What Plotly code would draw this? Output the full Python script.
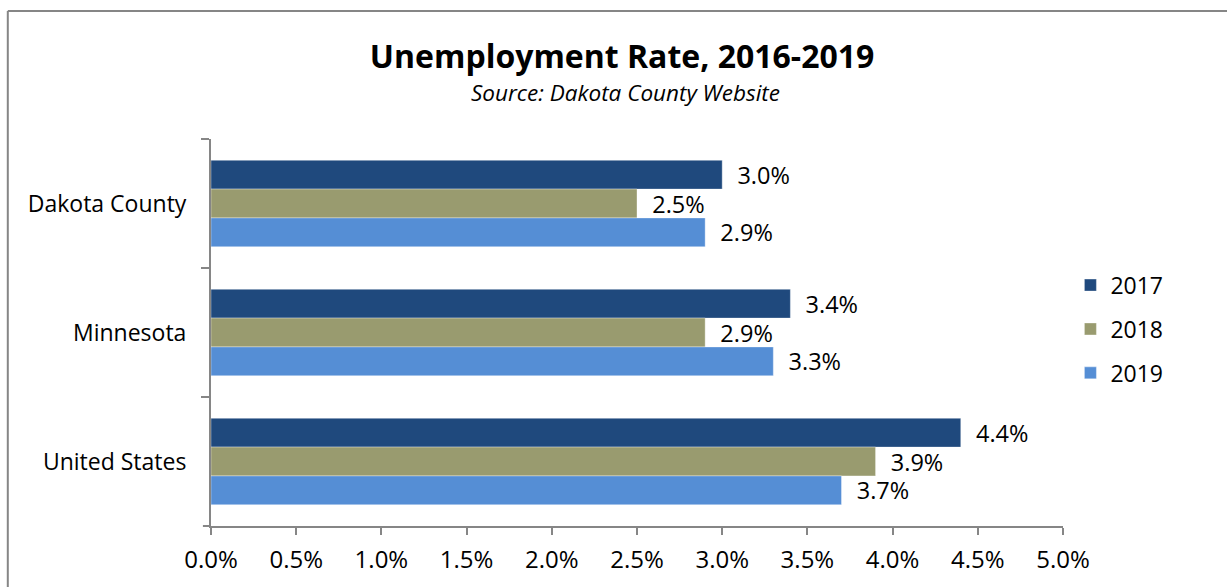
import plotly.graph_objects as go

categories = ["Dakota County", "Minnesota", "United States"]
years = ["2017", "2018", "2019"]
rate_2017 = [0.030, 0.034, 0.044]
rate_2018 = [0.025, 0.029, 0.039]
rate_2019 = [0.029, 0.033, 0.037]
x_ticks = [0.0, 0.005, 0.010, 0.015, 0.020, 0.025, 0.030, 0.035, 0.040, 0.045, 0.050]

series = [rate_2017, rate_2018, rate_2019]
colors = ["#1F497D", "#999B6F", "#558ED5"]
FONT = "Open Sans"
AXIS_GRAY = "#868686"

fig = go.Figure()
for i, (yr, vals, col) in enumerate(zip(years, series, colors)):
    fig.add_trace(go.Bar(
        y=categories, x=vals, name=yr, orientation="h",
        marker=dict(color=col, line=dict(color="rgba(255,255,255,0.6)", width=0.6)),
        text=["\u00a0\u00a0" + f"{v*100:.1f}%" for v in vals],
        textposition="outside", cliponaxis=False, constraintext="none",
        textfont=dict(family=FONT, size=23.5, color="#000000"),
        legendgroup=yr,
        hoverinfo="skip",
    ))

fig.update_layout(
    width=1227, height=587,
    margin=dict(l=211, r=164, t=139, b=61),
    paper_bgcolor="white", plot_bgcolor="white",
    barmode="group", bargap=0.33, bargroupgap=0,
    font=dict(family=FONT, color="#000000"),
    title=dict(
        text="<b>Unemployment Rate, 2016-2019</b>",
        x=0.507, xanchor="center", yref="container", y=1 - 57 / 587, yanchor="middle",
        font=dict(family=FONT, size=32, color="#000000"),
    ),
    legend=dict(
        x=1.0087, y=0.678, xanchor="left", yanchor="top",
        font=dict(family=FONT, size=23, color="#000000"),
        traceorder="grouped", tracegroupgap=11,
        bgcolor="rgba(0,0,0,0)",
    ),
    showlegend=True,
)

fig.add_annotation(
    text="<i>Source: Dakota County Website</i>",
    xref="paper", yref="paper", x=0.486, y=(526 - 93) / 387,
    xanchor="center", yanchor="middle", showarrow=False,
    font=dict(family=FONT, size=22.5, color="#000000"),
)

fig.update_xaxes(
    range=[0, 0.05], tickvals=x_ticks, tickformat=".1%",
    showgrid=False, zeroline=False,
    showline=True, linecolor=AXIS_GRAY, linewidth=2,
    ticks="outside", ticklen=7, tickcolor=AXIS_GRAY, tickwidth=2,
    tickfont=dict(family=FONT, size=24, color="#000000"),
    ticklabelstandoff=4,
)
fig.update_yaxes(
    autorange="reversed", type="category",
    showgrid=False, zeroline=False,
    showline=True, linecolor=AXIS_GRAY, linewidth=2,
    ticks="outside", ticklen=8, tickcolor=AXIS_GRAY, tickwidth=2,
    tickson="boundaries",
    tickfont=dict(family=FONT, size=23, color="#000000"),
    ticklabelstandoff=18,
)

# chart-area frame (left and top edges are inside the page)
fig.add_shape(type="line", xref="paper", yref="paper",
              x0=-0.2385, x1=1.25, y0=1.3305, y1=1.3305,
              line=dict(color=AXIS_GRAY, width=2))
fig.add_shape(type="line", xref="paper", yref="paper",
              x0=-0.2385, x1=-0.2385, y0=1.3305, y1=-0.3,
              line=dict(color=AXIS_GRAY, width=2))
# extend the x-axis line under the left tick marks
fig.add_shape(type="line", xref="paper", yref="paper",
              x0=-0.0095, x1=0, y0=0, y1=0,
              line=dict(color=AXIS_GRAY, width=2))

fig.write_html("out.html")
